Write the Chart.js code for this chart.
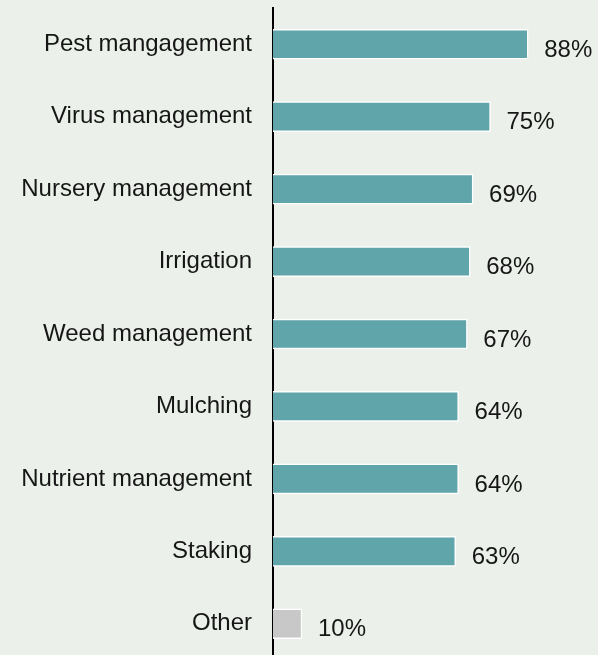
<!DOCTYPE html>
<html>
<head>
<meta charset="utf-8">
<script src="https://cdn.jsdelivr.net/npm/chart.js@4"></script>
<style>
  html, body { margin: 0; padding: 0; background: #ebf0ea; overflow: hidden; }
  #wrap { width: 598px; height: 660px; }
</style>
</head>
<body>
<div id="wrap"><canvas id="practiceChart" width="598" height="660"></canvas></div>
<script>
const practices = [
  "Pest mangagement",
  "Virus management",
  "Nursery management",
  "Irrigation",
  "Weed management",
  "Mulching",
  "Nutrient management",
  "Staking",
  "Other",
];
const shares = [88, 75, 69, 68, 67, 64, 64, 63, 10];
const barColors = ["#60a5aa", "#60a5aa", "#60a5aa", "#60a5aa", "#60a5aa", "#60a5aa", "#60a5aa", "#60a5aa", "#c8c8c8"];

const FONT = "'Liberation Sans', Arial, Helvetica, sans-serif";

// percentage text to the right of each bar
const valueLabels = {
  id: "valueLabels",
  afterDatasetsDraw(chart) {
    const ctx = chart.ctx;
    const meta = chart.getDatasetMeta(0);
    ctx.save();
    ctx.font = `24px ${FONT}`;
    ctx.fillStyle = "#161616";
    ctx.textAlign = "left";
    ctx.textBaseline = "middle";
    meta.data.forEach((bar, i) => {
      ctx.fillText(`${shares[i]}%`, bar.x + 16, bar.y + 6);
    });
    ctx.restore();
  },
};

const ctx = document.getElementById("practiceChart").getContext("2d");
new Chart(ctx, {
  type: "bar",
  data: {
    labels: practices,
    datasets: [
      {
        data: shares,
        backgroundColor: barColors,
        borderColor: "#ffffff",
        borderWidth: 1.5,
        barThickness: 30,
      },
    ],
  },
  options: {
    indexAxis: "y",
    responsive: false,
    animation: false,
    layout: { padding: { left: 20, right: 35, top: 8, bottom: 0 } },
    plugins: { legend: { display: false }, tooltip: { enabled: false } },
    scales: {
      x: { min: 0, max: 100, display: false },
      y: {
        z: 1,
        // fixed axis width; no extra vertical room for the end labels
        afterFit: (s) => {
          s.width = 253;
          s.paddingTop = 0;
          s.paddingBottom = 0;
        },
        grid: { display: false, drawTicks: false },
        border: { display: true, color: "#000000", width: 2 },
        ticks: { color: "#161616", padding: 21, font: { family: FONT, size: 24 } },
      },
    },
  },
  plugins: [valueLabels],
});
</script>
</body>
</html>
